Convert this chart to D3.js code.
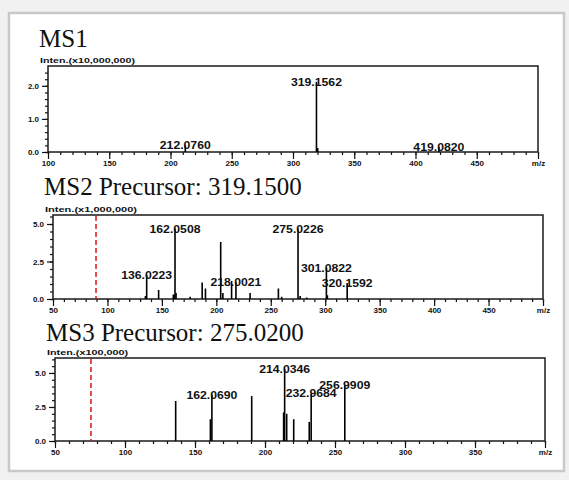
<!DOCTYPE html>
<html>
<head>
<meta charset="utf-8">
<script src="https://cdn.jsdelivr.net/npm/d3@7"></script>
<style>
  body { margin: 0; background: #f1f1f1; }
  svg { display: block; }
  .title { font-family: "Liberation Serif", "DejaVu Serif", serif; font-size: 25px; fill: #111; }
  .inten { font-family: "Liberation Sans", Arial, sans-serif; font-size: 8px; font-weight: bold; fill: #111; }
  .tick text { font-family: "Liberation Sans", Arial, sans-serif; font-size: 8px; font-weight: bold; fill: #111; }
  .peak-label { font-family: "Liberation Sans", Arial, sans-serif; font-size: 10px; font-weight: bold; fill: #111; }
</style>
</head>
<body>
<svg id="chart" width="569" height="480"></svg>
<script>
// MS1 spectrum (x10,000,000)
const ms1Mz = [212.0760, 319.1562, 320.16, 419.0820];
const ms1Int = [0.2, 2.12, 0.12, 0.15];
const ms1Labels = ['212.0760', '319.1562', '', '419.0820'];
const ms1XTicks = [100, 150, 200, 250, 300, 350, 400, 450, 500];
const ms1YTicks = [0, 1, 2];

// MS2 spectrum, precursor 319.1500 (x1,000,000)
const ms2Mz = [134.9, 136.0223, 147.0, 160.5, 161.0, 162.0508, 163.0, 176.0, 187.0, 190.0,
  204.0, 206.0, 214.0, 218.0021, 231.0, 257.0, 260.0, 275.0226, 277.0, 283.0, 301.0822, 302.0, 320.1592];
const ms2Int = [0.2, 1.6, 0.6, 0.3, 0.25, 4.7, 0.4, 0.15, 1.1, 0.7,
  3.8, 0.4, 1.2, 1.13, 0.4, 0.7, 0.15, 4.7, 0.2, 0.1, 2.07, 0.25, 1.07];
const ms2Labels = ['', '136.0223', '', '', '', '162.0508', '', '', '', '',
  '', '', '', '218.0021', '', '', '', '275.0226', '', '', '301.0822', '', '320.1592'];
const ms2XTicks = [50, 100, 150, 200, 250, 300, 350, 400, 450, 500];
const ms2YTicks = [0, 2.5, 5];
const ms2Cutoff = 89.5;

// MS3 spectrum, precursor 275.0200 (x100,000)
const ms3Mz = [136.2, 161.0, 162.0690, 190.5, 213.3, 214.0346, 215.5, 220.5, 231.6, 232.9684, 256.9909];
const ms3Int = [2.94, 1.6, 3.4, 3.3, 2.1, 5.3, 2.0, 1.6, 1.4, 3.5, 4.1];
const ms3Labels = ['', '', '162.0690', '', '', '214.0346', '', '', '', '232.9684', '256.9909'];
const ms3XTicks = [50, 100, 150, 200, 250, 300, 350, 400];
const ms3YTicks = [0, 2.5, 5];
const ms3Cutoff = 75.7;

const svg = d3.select('#chart');

// page frame
svg.append('rect')
  .attr('x', 9).attr('y', 13).attr('width', 555).attr('height', 458)
  .attr('fill', '#fff').attr('stroke', '#c9c9c9').attr('stroke-width', 2.5);

function drawPanel(p) {
  const x = d3.scaleLinear().domain(p.xDomain).range([p.left, p.right]);
  const y = d3.scaleLinear().domain(p.yDomain).range([p.bottom, p.top]);
  const g = svg.append('g');

  g.append('text').attr('class', 'title')
    .attr('x', p.left - 9).attr('y', p.titleY)
    .text(p.title);

  g.append('text').attr('class', 'inten')
    .attr('x', p.left - 8).attr('y', p.top - 3)
    .attr('textLength', p.intenWidth).attr('lengthAdjust', 'spacingAndGlyphs')
    .text(p.inten);

  // minor ticks
  const xMinor = g.append('g')
    .attr('transform', `translate(0,${p.bottom})`)
    .call(d3.axisBottom(x).tickValues(d3.range(p.xDomain[0], p.xDomain[1] + 1, 10)).tickSize(3).tickFormat(''));
  xMinor.select('.domain').remove();

  const yMinor = g.append('g')
    .attr('transform', `translate(${p.left},0)`)
    .call(d3.axisLeft(y).tickValues(d3.range(0, p.yDomain[1], p.yMinorStep)).tickSize(3).tickFormat(''));
  yMinor.select('.domain').remove();

  // major ticks
  const last = p.xTicks[p.xTicks.length - 1];
  const xAxis = g.append('g')
    .attr('transform', `translate(0,${p.bottom})`)
    .call(d3.axisBottom(x).tickValues(p.xTicks).tickSize(7).tickPadding(1)
      .tickFormat(d => d === last ? 'm/z' : d));
  xAxis.select('.domain').remove();

  const yAxis = g.append('g')
    .attr('transform', `translate(${p.left},0)`)
    .call(d3.axisLeft(y).tickValues(p.yTicks).tickSize(6).tickPadding(3)
      .tickFormat(d3.format('.1f')));
  yAxis.select('.domain').remove();

  g.selectAll('.tick line').attr('stroke', '#111').attr('stroke-width', 1.2);

  // plot box
  g.append('rect')
    .attr('x', p.left).attr('y', p.top)
    .attr('width', p.right - p.left).attr('height', p.bottom - p.top)
    .attr('fill', 'none').attr('stroke', '#1a1a1a').attr('stroke-width', 1.5);

  // precursor cut-off marker
  if (p.cutoff !== undefined) {
    g.append('line')
      .attr('x1', x(p.cutoff)).attr('x2', x(p.cutoff))
      .attr('y1', p.top + 1).attr('y2', p.bottom)
      .attr('stroke', '#e51c23').attr('stroke-width', 1.6)
      .attr('stroke-dasharray', '5,3');
  }

  const peaks = p.mz.map((m, i) => ({ mz: m, int: p.int[i], label: p.labels[i] }));

  g.selectAll('.peak')
    .data(peaks)
    .enter()
    .append('line')
    .attr('class', 'peak')
    .attr('x1', d => x(d.mz)).attr('x2', d => x(d.mz))
    .attr('y1', y(0)).attr('y2', d => y(d.int))
    .attr('stroke', '#000').attr('stroke-width', 1.6);

  g.selectAll('.peak-label')
    .data(peaks.filter(d => d.label))
    .enter()
    .append('text')
    .attr('class', 'peak-label')
    .attr('x', d => x(d.mz))
    .attr('y', d => y(d.int) + 4)
    .attr('text-anchor', 'middle')
    .attr('textLength', 51).attr('lengthAdjust', 'spacingAndGlyphs')
    .text(d => d.label);
}

drawPanel({
  title: 'MS1', titleY: 47, inten: 'Inten.(x10,000,000)', intenWidth: 95,
  left: 48, right: 538, top: 66, bottom: 152,
  xDomain: [100, 500], yDomain: [0, 2.6], yMinorStep: 0.2,
  xTicks: ms1XTicks, yTicks: ms1YTicks,
  mz: ms1Mz, int: ms1Int, labels: ms1Labels
});

drawPanel({
  title: 'MS2 Precursor: 319.1500', titleY: 195, inten: 'Inten.(x1,000,000)', intenWidth: 92,
  left: 53, right: 543, top: 215, bottom: 299,
  xDomain: [50, 500], yDomain: [0, 5.6], yMinorStep: 0.5,
  xTicks: ms2XTicks, yTicks: ms2YTicks, cutoff: ms2Cutoff,
  mz: ms2Mz, int: ms2Int, labels: ms2Labels
});

drawPanel({
  title: 'MS3 Precursor: 275.0200', titleY: 341, inten: 'Inten.(x100,000)', intenWidth: 81,
  left: 55, right: 545, top: 358, bottom: 441,
  xDomain: [50, 400], yDomain: [0, 6.1], yMinorStep: 0.5,
  xTicks: ms3XTicks, yTicks: ms3YTicks, cutoff: ms3Cutoff,
  mz: ms3Mz, int: ms3Int, labels: ms3Labels
});
</script>
</body>
</html>
